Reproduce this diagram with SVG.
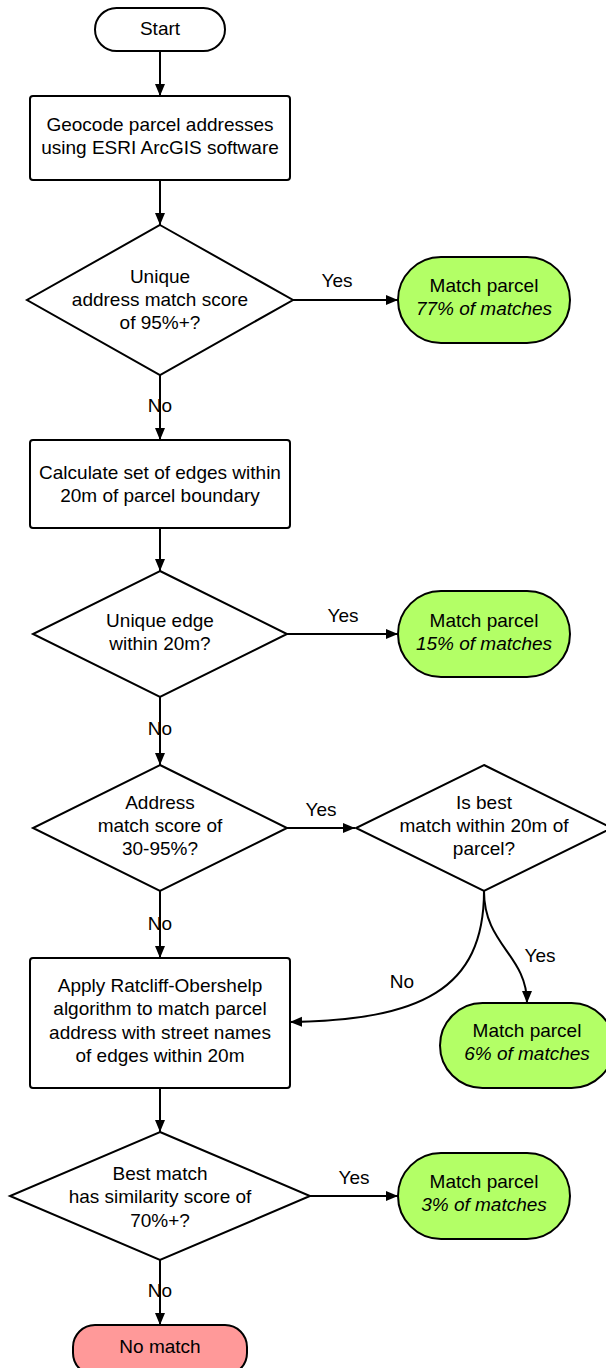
<svg xmlns="http://www.w3.org/2000/svg" width="606" height="1368" viewBox="0 0 606 1368">
<style>
.n{fill:#fff;stroke:#000;stroke-width:2}
.g{fill:#b3ff66;stroke:#000;stroke-width:2}
.r{fill:#ff9999;stroke:#000;stroke-width:2}
text{font-family:"Liberation Sans",Arial,sans-serif;font-size:19px;fill:#000;text-anchor:middle}
.i{font-style:italic}
.c{fill:none;stroke:#000;stroke-width:2;marker-end:url(#a)}
</style>
<defs>
<marker id="a" viewBox="0 0 12 12" refX="12" refY="6" markerWidth="12" markerHeight="12" markerUnits="userSpaceOnUse" orient="auto">
<path d="M0,1 L12,6 L0,11 Z" fill="#000"/>
</marker>
</defs>
<g id="connectors">
<path class="c" d="M160,51 V96"/>
<path class="c" d="M160,180 V225"/>
<path class="c" d="M293,300 H398"/>
<path class="c" d="M160,375 V440"/>
<path class="c" d="M160,528 V571"/>
<path class="c" d="M287,634 H398"/>
<path class="c" d="M160,697 V765"/>
<path class="c" d="M287,828 H355"/>
<path class="c" d="M160,891 V958"/>
<path class="c" d="M484,891 C484,990 420,1020 290,1022"/>
<path class="c" d="M484,891 C484,945 527,955 527,1003"/>
<path class="c" d="M160,1088 V1132"/>
<path class="c" d="M310,1196 H398"/>
<path class="c" d="M160,1260 V1325"/>
<text x="337" y="287">Yes</text>
<text x="160" y="412">No</text>
<text x="343" y="622">Yes</text>
<text x="160" y="735">No</text>
<text x="321" y="816">Yes</text>
<text x="160" y="930">No</text>
<text x="402" y="988">No</text>
<text x="540" y="962">Yes</text>
<text x="354" y="1184">Yes</text>
<text x="160" y="1297">No</text>
</g>
<g id="start">
<rect class="n" x="95" y="8" width="130" height="43" rx="21.5"/>
<text x="160" y="35">Start</text>
</g>
<g id="geocode">
<rect class="n" x="30" y="96" width="260" height="84" rx="3"/>
<text x="160" y="131">Geocode parcel addresses</text>
<text x="160" y="154">using ESRI ArcGIS software</text>
</g>
<g id="d1">
<path class="n" d="M160,225 L293,300 L160,375 L27,300 Z"/>
<text x="160" y="283">Unique</text>
<text x="160" y="306">address match score</text>
<text x="160" y="329">of 95%+?</text>
</g>
<g id="m1">
<rect class="g" x="398" y="257" width="172" height="86" rx="43"/>
<text x="484" y="292">Match parcel</text>
<text x="484" y="315" class="i">77% of matches</text>
</g>
<g id="edges">
<rect class="n" x="30" y="440" width="260" height="88" rx="3"/>
<text x="160" y="479">Calculate set of edges within</text>
<text x="160" y="502">20m of parcel boundary</text>
</g>
<g id="d2">
<path class="n" d="M160,571 L287,634 L160,697 L33,634 Z"/>
<text x="160" y="627">Unique edge</text>
<text x="160" y="650">within 20m?</text>
</g>
<g id="m2">
<rect class="g" x="398" y="591" width="172" height="86" rx="43"/>
<text x="484" y="627">Match parcel</text>
<text x="484" y="650" class="i">15% of matches</text>
</g>
<g id="d3">
<path class="n" d="M160,765 L287,828 L160,891 L33,828 Z"/>
<text x="160" y="809">Address</text>
<text x="160" y="832">match score of</text>
<text x="160" y="855">30-95%?</text>
</g>
<g id="d4">
<path class="n" d="M484,765 L612,828 L484,891 L356,828 Z"/>
<text x="484" y="809">Is best</text>
<text x="484" y="832">match within 20m of</text>
<text x="484" y="855">parcel?</text>
</g>
<g id="ratcliff">
<rect class="n" x="30" y="958" width="260" height="130" rx="3"/>
<text x="160" y="992">Apply Ratcliff-Obershelp</text>
<text x="160" y="1015">algorithm to match parcel</text>
<text x="160" y="1039">address with street names</text>
<text x="160" y="1062">of edges within 20m</text>
</g>
<g id="m3">
<rect class="g" x="440" y="1003" width="174" height="85" rx="42.5"/>
<text x="527" y="1037">Match parcel</text>
<text x="527" y="1060" class="i">6% of matches</text>
</g>
<g id="d5">
<path class="n" d="M160,1132 L310,1196 L160,1260 L10,1196 Z"/>
<text x="160" y="1180">Best match</text>
<text x="160" y="1203">has similarity score of</text>
<text x="160" y="1227">70%+?</text>
</g>
<g id="m4">
<rect class="g" x="398" y="1153" width="172" height="86" rx="43"/>
<text x="484" y="1188">Match parcel</text>
<text x="484" y="1211" class="i">3% of matches</text>
</g>
<g id="nomatch">
<rect class="r" x="73" y="1325" width="174" height="50" rx="22"/>
<text x="160" y="1353">No match</text>
</g>
</svg>
